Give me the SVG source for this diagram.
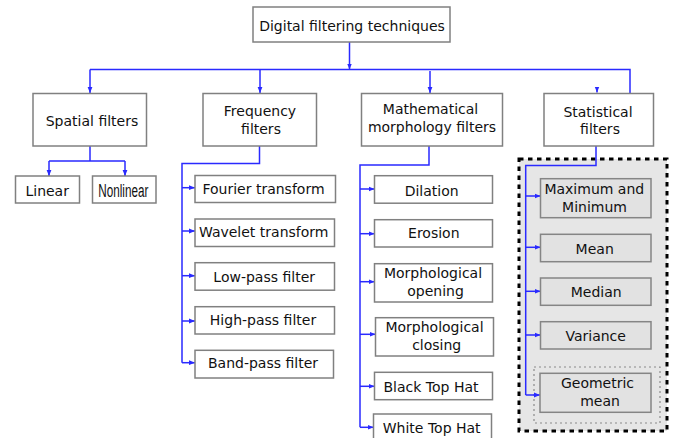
<svg xmlns="http://www.w3.org/2000/svg" width="676" height="438" viewBox="0 0 676 438">
<style>
  .box{fill:#ffffff;stroke:#808080;stroke-width:1.5}
  .gbox{fill:#e2e2e2;stroke:#858585;stroke-width:1.5}
  .t{font-family:"DejaVu Sans",Verdana,sans-serif;font-size:14px;fill:#111;text-anchor:middle}
  .c{fill:none;stroke:#2a2aff;stroke-width:1.5}
  .a{fill:none;stroke:#2a2aff;stroke-width:1.5;marker-end:url(#ah)}
</style>
<defs>
  <marker id="ah" viewBox="0 0 6 6" refX="6" refY="3" markerWidth="6" markerHeight="6" markerUnits="userSpaceOnUse" orient="auto">
    <path d="M0,0.6 L6,3 L0,5.4 Z" fill="#2a2aff"/>
  </marker>
</defs>
<rect width="676" height="438" fill="#ffffff"/>

<g id="statistical-group-bg">
  <rect x="519" y="159" width="148" height="272" fill="#e6e6e6" stroke="#000" stroke-width="3" stroke-dasharray="4.5 4.5"/>
  <rect x="534" y="367" width="126" height="56" fill="none" stroke="#8a8a8a" stroke-width="1.2" stroke-dasharray="2 3"/>
</g>

<g id="connectors">
  <path class="a" d="M349.5 42 V69.5"/>
  <path class="c" d="M90 69.5 H630 V93"/>
  <path class="a" d="M90 69.5 V93"/>
  <path class="a" d="M260 69.5 V93"/>
  <path class="a" d="M430 71 V93"/>
  <path class="a" d="M597 87 V92.5"/>
  <!-- spatial -->
  <path class="c" d="M90 146 V161 M49 161 H125"/>
  <path class="a" d="M49 161 V176"/>
  <path class="a" d="M125 161 V176"/>
  <!-- frequency -->
  <path class="c" d="M259.5 146 V163.5 H182 V362.7"/>
  <path class="a" d="M182 187.7 H195"/>
  <path class="a" d="M182 231 H195"/>
  <path class="a" d="M182 275.7 H195"/>
  <path class="a" d="M182 321 H195"/>
  <path class="a" d="M182 362.7 H195"/>
  <!-- morphology -->
  <path class="c" d="M429 146 V165 H360 V427.3"/>
  <path class="a" d="M360 189 H374.5"/>
  <path class="a" d="M360 233.7 H374.5"/>
  <path class="a" d="M360 281.7 H374.5"/>
  <path class="a" d="M360 334.3 H375.5"/>
  <path class="a" d="M360 386.3 H374.5"/>
  <path class="a" d="M360 427.3 H373.5"/>
  <!-- statistical -->
  <path class="c" d="M596 146 V165.5 H525.7 V395"/>
  <path class="a" d="M525.7 196 H540.5"/>
  <path class="a" d="M525.7 247.3 H540.5"/>
  <path class="a" d="M525.7 291.3 H540.5"/>
  <path class="a" d="M525.7 335 H540.5"/>
  <path class="a" d="M525.7 395 H540"/>
</g>

<g id="digital-filtering-techniques">
  <rect class="box" x="253" y="7" width="197" height="35"/>
  <text class="t" x="352" y="30.5">Digital filtering techniques</text>
</g>
<g id="spatial-filters">
  <rect class="box" x="33" y="93.5" width="113.5" height="52.5"/>
  <text class="t" x="92" y="126">Spatial filters</text>
</g>
<g id="frequency-filters">
  <rect class="box" x="203" y="93.5" width="113.5" height="52.5"/>
  <text class="t" x="260" y="116">Frequency</text>
  <text class="t" x="261" y="133.5">filters</text>
</g>
<g id="mathematical-morphology-filters">
  <rect class="box" x="361.5" y="93.5" width="141" height="52.5"/>
  <text class="t" x="430.5" y="114">Mathematical</text>
  <text class="t" x="432" y="131.7">morphology filters</text>
</g>
<g id="statistical-filters">
  <rect class="box" x="544" y="93.5" width="109.5" height="52.5"/>
  <text class="t" x="598" y="116.5">Statistical</text>
  <text class="t" x="600" y="134">filters</text>
</g>

<g id="linear">
  <rect class="box" x="15.5" y="176" width="64" height="27"/>
  <text class="t" x="47.2" y="195.7">Linear</text>
</g>
<g id="nonlinear">
  <rect class="box" x="92.5" y="176" width="63.5" height="27"/>
  <text x="123.3" y="196.5" font-family="'Liberation Sans Narrow','Liberation Sans',sans-serif" font-size="18" fill="#111" text-anchor="middle" textLength="50" lengthAdjust="spacingAndGlyphs">Nonlinear</text>
</g>

<g id="fourier-transform">
  <rect class="box" x="195" y="175.5" width="140.5" height="27"/>
  <text class="t" x="263.5" y="194">Fourier transform</text>
</g>
<g id="wavelet-transform">
  <rect class="box" x="195" y="219" width="139.5" height="27.5"/>
  <text class="t" x="263.7" y="237.3">Wavelet transform</text>
</g>
<g id="low-pass-filter">
  <rect class="box" x="195" y="262.7" width="139.5" height="27.5"/>
  <text class="t" x="264.2" y="281.7">Low-pass filter</text>
</g>
<g id="high-pass-filter">
  <rect class="box" x="195" y="306.7" width="139.5" height="27.3"/>
  <text class="t" x="263" y="325">High-pass filter</text>
</g>
<g id="band-pass-filter">
  <rect class="box" x="195" y="350.3" width="138.5" height="27.7"/>
  <text class="t" x="263" y="367.7">Band-pass filter</text>
</g>

<g id="dilation">
  <rect class="box" x="374.5" y="175.7" width="118" height="27.5"/>
  <text class="t" x="431.7" y="196">Dilation</text>
</g>
<g id="erosion">
  <rect class="box" x="374.5" y="219.7" width="118" height="27.3"/>
  <text class="t" x="433.8" y="237.7">Erosion</text>
</g>
<g id="morphological-opening">
  <rect class="box" x="374.5" y="263.7" width="118" height="38.3"/>
  <text class="t" x="433" y="278.3">Morphological</text>
  <text class="t" x="435.5" y="296">opening</text>
</g>
<g id="morphological-closing">
  <rect class="box" x="375.5" y="317.7" width="118" height="38.3"/>
  <text class="t" x="434.5" y="332.3">Morphological</text>
  <text class="t" x="436.7" y="350">closing</text>
</g>
<g id="black-top-hat">
  <rect class="box" x="374.5" y="372.3" width="118" height="27.4"/>
  <text class="t" x="431" y="391.7">Black Top Hat</text>
</g>
<g id="white-top-hat">
  <rect class="box" x="373.5" y="414" width="118" height="30"/>
  <text class="t" x="431.7" y="433.3">White Top Hat</text>
</g>

<g id="maximum-and-minimum">
  <rect class="gbox" x="540.5" y="178.7" width="110.5" height="39"/>
  <text class="t" x="594.3" y="194">Maximum and</text>
  <text class="t" x="594.5" y="211.7">Minimum</text>
</g>
<g id="mean">
  <rect class="gbox" x="540.5" y="234.3" width="110.5" height="27.4"/>
  <text class="t" x="594.7" y="253.7">Mean</text>
</g>
<g id="median">
  <rect class="gbox" x="540.5" y="278" width="110.5" height="27.3"/>
  <text class="t" x="596.2" y="296.7">Median</text>
</g>
<g id="variance">
  <rect class="gbox" x="540.5" y="321.7" width="110.5" height="27.3"/>
  <text class="t" x="595.7" y="340.7">Variance</text>
</g>
<g id="geometric-mean">
  <rect class="gbox" x="540" y="373.3" width="111" height="39"/>
  <text class="t" x="597.5" y="388.3">Geometric</text>
  <text class="t" x="600" y="405.7">mean</text>
</g>
</svg>
